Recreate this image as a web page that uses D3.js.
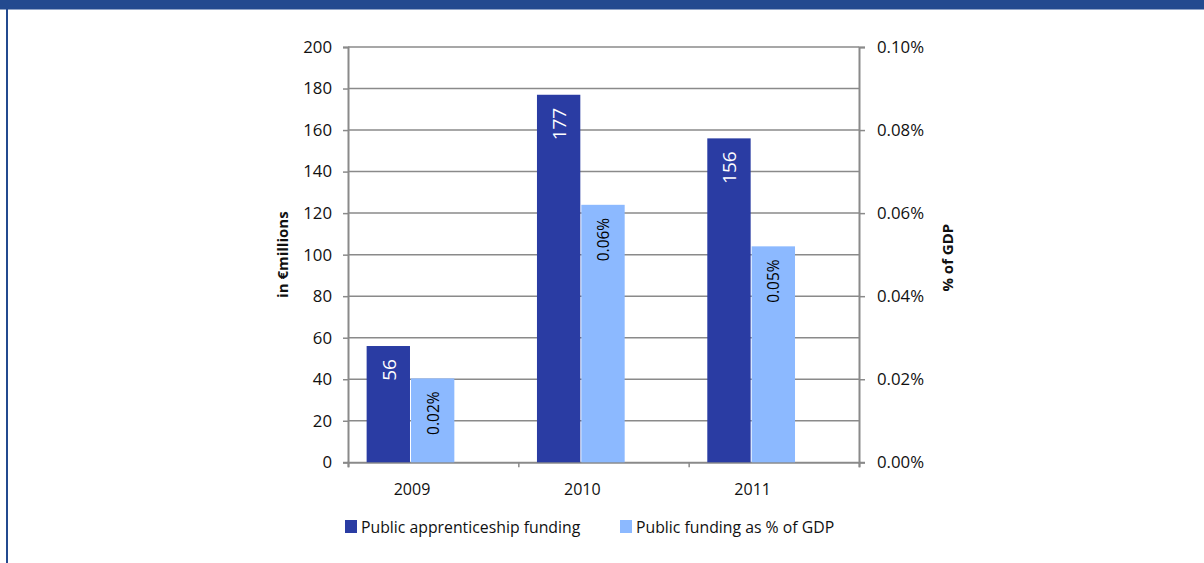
<!DOCTYPE html>
<html>
<head>
<meta charset="utf-8">
<script src="https://cdn.jsdelivr.net/npm/d3@7"></script>
<style>
  html, body { margin: 0; padding: 0; background: #fff; }
  svg { display: block; font-family: "Open Sans", Lato, sans-serif; }
</style>
</head>
<body>
<svg id="chart" width="1204" height="563"></svg>
<script>
// Public apprenticeship funding, 2009-2011
const years = ["2009", "2010", "2011"];
const fundingMillions = [56, 177, 156];        // € millions (left axis)
const fundingShareGDP = [0.0202, 0.062, 0.052]; // % of GDP (right axis)
const leftTicks = [0, 20, 40, 60, 80, 100, 120, 140, 160, 180, 200];
const rightTicks = [0, 0.02, 0.04, 0.06, 0.08, 0.10];
const seriesNames = ["Public apprenticeship funding", "Public funding as % of GDP"];

const colors = { dark: "#2a3ca3", light: "#8cb9ff", frame: "#234a8f", grid: "#8a8a8a", text: "#111" };
const FONT = "'Open Sans', Lato, sans-serif";

const svg = d3.select("#chart");

// page frame: top band and left rule
svg.append("rect").attr("x", 0).attr("y", 0).attr("width", 1204).attr("height", 9.5).attr("fill", colors.frame);
svg.append("rect").attr("x", 6).attr("y", 0).attr("width", 2).attr("height", 563).attr("fill", colors.frame);

const plot = { left: 348, right: 859, top: 47, bottom: 462.3 };

const x0 = d3.scaleBand().domain(years).range([plot.left, plot.right]).paddingInner(0).paddingOuter(0);
// three bar slots per year; the third slot stays empty
const slot = d3.scaleBand().domain([0, 1, 2]).range([0, x0.bandwidth()]).paddingOuter(0.42).paddingInner(0);

const yL = d3.scaleLinear().domain([0, 200]).range([plot.bottom, plot.top]);
const yR = d3.scaleLinear().domain([0, 0.10]).range([plot.bottom, plot.top]);

// gridlines
svg.append("g").selectAll("line").data(leftTicks.filter(d => d > 0)).join("line")
  .attr("x1", plot.left).attr("x2", plot.right)
  .attr("y1", d => yL(d)).attr("y2", d => yL(d))
  .attr("stroke", colors.grid).attr("stroke-width", 1.5);

// left axis
const axL = svg.append("g").attr("transform", `translate(${plot.left},0)`)
  .call(d3.axisLeft(yL).tickValues(leftTicks).tickSize(5).tickPadding(11).tickFormat(d3.format("d")));
// right axis
const axR = svg.append("g").attr("transform", `translate(${plot.right},0)`)
  .call(d3.axisRight(yR).tickValues(rightTicks).tickSize(6).tickPadding(12).tickFormat(d => d3.format(".2f")(d) + "%"));
// bottom axis with ticks at category boundaries
const axB = svg.append("g").attr("transform", `translate(0,${plot.bottom})`)
  .call(d3.axisBottom(d3.scaleLinear().domain([0, 3]).range([plot.left, plot.right]))
    .tickValues([0, 1, 2, 3]).tickSize(5).tickFormat(""));

[axL, axR, axB].forEach(ax => {
  ax.select(".domain").attr("stroke", colors.grid).attr("stroke-width", 2);
  ax.selectAll(".tick line").attr("stroke", colors.grid).attr("stroke-width", 1.5);
  ax.selectAll("text").attr("fill", colors.text).style("font-size", "16.8px").style("font-family", FONT);
});

// category labels, centred under each pair of bars
svg.append("g").selectAll("text").data(years).join("text")
  .attr("x", d => x0(d) + slot(1) + 1)
  .attr("y", 495)
  .attr("text-anchor", "middle")
  .attr("fill", colors.text).style("font-size", "16px")
  .text(d => d);

// bars
const rows = years.map((y, i) => ({ year: y, funding: fundingMillions[i], share: fundingShareGDP[i] }));

svg.append("g").selectAll("rect").data(rows).join("rect")
  .attr("x", d => x0(d.year) + slot(0))
  .attr("y", d => yL(d.funding))
  .attr("width", slot.bandwidth() - 1)
  .attr("height", d => yL(0) - yL(d.funding))
  .attr("fill", colors.dark);

svg.append("g").selectAll("rect").data(rows).join("rect")
  .attr("x", d => x0(d.year) + slot(1))
  .attr("y", d => yR(d.share))
  .attr("width", slot.bandwidth() - 1)
  .attr("height", d => yR(0) - yR(d.share))
  .attr("fill", colors.light);

// value labels, rotated inside the top of each bar
function barLabel(xf, yf, textf, color, size) {
  svg.append("g").selectAll("text").data(rows).join("text")
    .attr("transform", d => `translate(${xf(d) + slot.bandwidth() / 2 + size * 0.36},${yf(d) + 13}) rotate(-90)`)
    .attr("text-anchor", "end")
    .attr("fill", color)
    .style("font-size", size + "px")
    .text(textf);
}
barLabel(d => x0(d.year) + slot(0), d => yL(d.funding), d => d3.format("d")(d.funding), "#fff", 19);
barLabel(d => x0(d.year) + slot(1), d => yR(d.share), d => d3.format(".2f")(d.share) + "%", "#000", 15.5);

// axis titles
svg.append("text")
  .attr("transform", `translate(288,${(plot.top + plot.bottom) / 2}) rotate(-90)`)
  .attr("text-anchor", "middle").attr("fill", colors.text)
  .style("font-size", "15px").style("font-weight", "bold")
  .text("in €millions");
svg.append("text")
  .attr("transform", `translate(953,${(plot.top + plot.bottom) / 2 + 3}) rotate(-90)`)
  .attr("text-anchor", "middle").attr("fill", colors.text)
  .style("font-size", "15px").style("font-weight", "bold")
  .text("% of GDP");

// legend
const legendItems = [
  { name: seriesNames[0], color: colors.dark, x: 345 },
  { name: seriesNames[1], color: colors.light, x: 620 }
];
const lg = svg.append("g").selectAll("g").data(legendItems).join("g")
  .attr("transform", d => `translate(${d.x},520)`);
lg.append("rect").attr("width", 12).attr("height", 13).attr("fill", d => d.color);
lg.append("text").attr("x", 16).attr("y", 12.5)
  .attr("fill", colors.text).style("font-size", "15.8px")
  .text(d => d.name);
</script>
</body>
</html>
